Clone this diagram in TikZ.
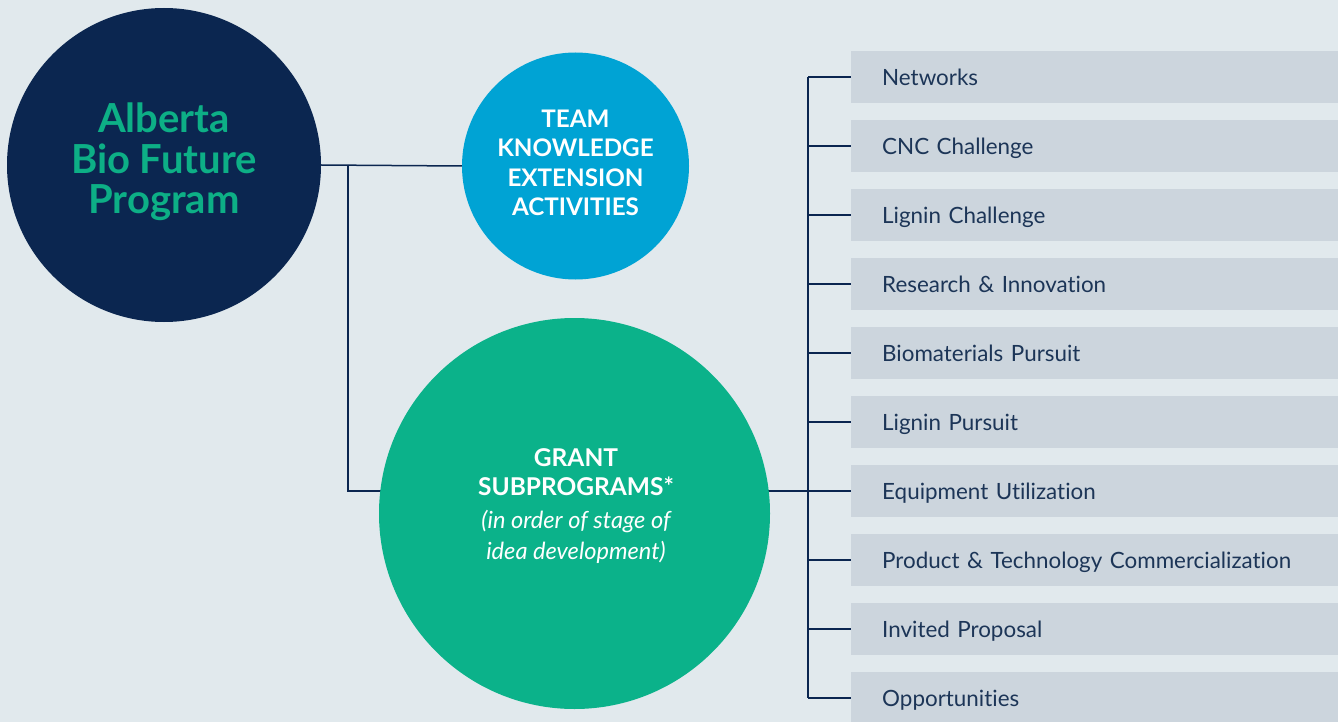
\documentclass[tikz,border=0pt]{standalone}
\usepackage{fontspec}
\setmainfont{Lato}[Ligatures={NoCommon,NoContextual}]
\usetikzlibrary{backgrounds}
\definecolor{bgc}{HTML}{E1E9ED}
\definecolor{navyc}{HTML}{0B2650}
\definecolor{tealtxt}{HTML}{0DAF86}
\definecolor{bluec}{HTML}{00A3D4}
\definecolor{greenc}{HTML}{0BB28A}
\definecolor{boxc}{HTML}{CCD5DD}
\definecolor{itemtxt}{HTML}{1C3557}
\tikzset{
  bigcircle/.style={circle, inner sep=0pt, draw=none},
  conn/.style={draw=navyc, line width=1.5pt},
  itembox/.style={fill=boxc, rectangle, anchor=north west, minimum width=487pt, minimum height=52pt,
    text width=425pt, inner xsep=31pt, inner ysep=0pt, align=left, text=itemtxt,
    font=\fontsize{22.4}{26}\selectfont, text height=16pt, text depth=0pt},
  circtxt/.style={anchor=north, inner sep=0pt, align=center, text=white},
}
\begin{document}
\begin{tikzpicture}[x=1pt,y=-1pt]
\useasboundingbox (0,0) rectangle (1338,722);
% circles
\node[bigcircle, fill=navyc, minimum size=314pt] (navy) at (164,165) {};
\node[bigcircle, fill=bluec, minimum size=227pt] (team) at (575.5,166) {};
\node[bigcircle, fill=greenc, minimum size=391pt] (grant) at (574.5,513.5) {};
% circle texts
\node[circtxt, text=tealtxt, font=\fontsize{40}{40.5}\selectfont\bfseries] (navytxt) at (164,103)
  {Alberta\\Bio Future\\Program};
\node[circtxt, font=\fontsize{24.2}{29.3}\selectfont\bfseries] (teamtxt) at (575.5,110)
  {TEAM\\KNOWLEDGE\\EXTENSION\\ACTIVITIES};
\node[circtxt, font=\fontsize{24.5}{29}\selectfont] (granttxt) at (576,448)
  {\bfseries GRANT\\\bfseries SUBPROGRAMS*\\[4pt]\fontsize{23.6}{29}\selectfont\itshape (in order of stage of\\[2pt]\fontsize{23.6}{29}\selectfont\itshape idea development)};
% item boxes
\foreach \t [count=\i from 0] in {Networks, CNC Challenge, Lignin Challenge, Research \& Innovation,
  Biomaterials Pursuit, Lignin Pursuit, Equipment Utilization, Product \& Technology Commercialization,
  Invited Proposal, Opportunities}{
  \node[itembox] (b\i) at (851,51+69*\i) {\t};
}
% connectors
\coordinate (j1) at (348,165);
\coordinate (j2) at (348,491);
\coordinate (spine) at (808,491);
\begin{pgfonlayer}{background}
  \fill[bgc] (0,0) rectangle (1338,722);
  \draw[conn] (navy.east) -- (team.west);
  \draw[conn] (j1) -- (j2) -- (j2 -| grant.center);
  \draw[conn] (spine -| grant.center) -- (spine);
  \draw[conn] (b0.west -| spine) -- (b9.west -| spine);
  \foreach \i in {0,...,9}{
    \draw[conn] (b\i.west -| spine) -- (b\i.west);
  }
\end{pgfonlayer}
\end{tikzpicture}
\end{document}
